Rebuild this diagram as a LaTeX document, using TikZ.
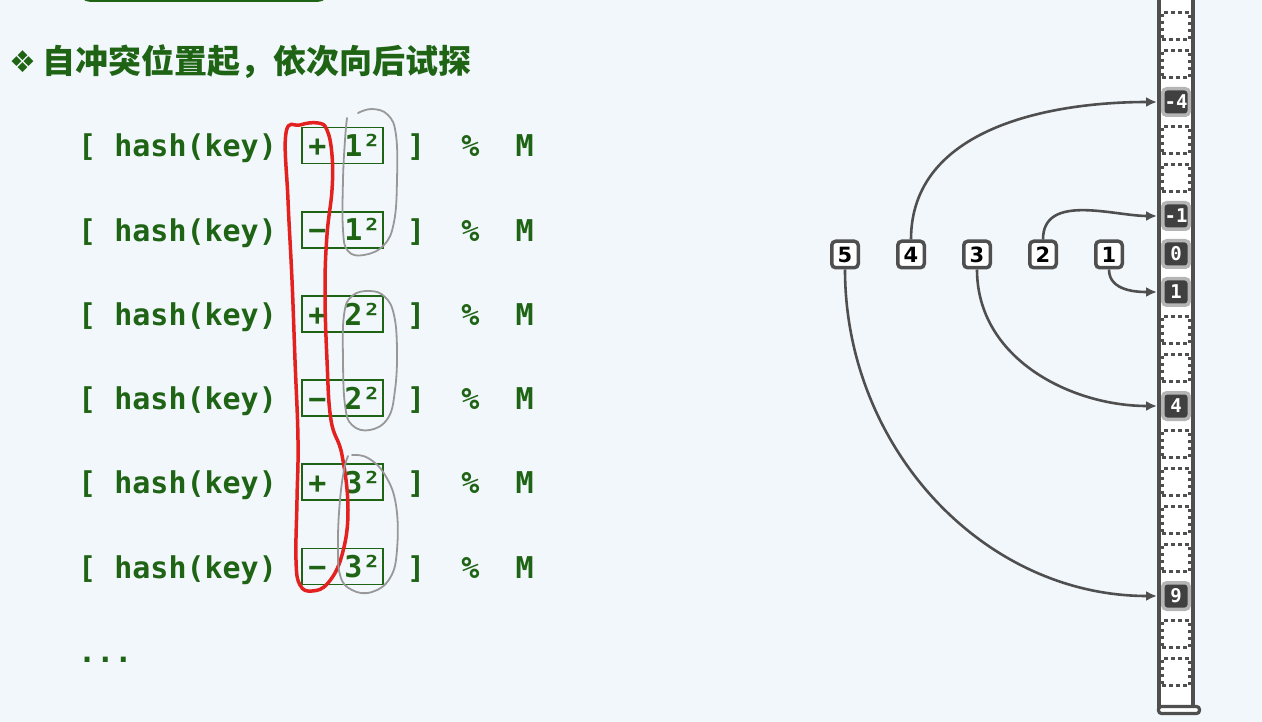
\documentclass[tikz,border=0pt]{standalone}
\usepackage{fontspec}
\setmonofont{DejaVu Sans Mono}
\newfontfamily\cjk{Noto Sans CJK SC}
\newfontfamily\dejavu{DejaVu Sans}
\usetikzlibrary{arrows.meta,positioning}
\definecolor{bg}{HTML}{F2F7FC}
\definecolor{codegreen}{HTML}{1E6414}
\definecolor{pen}{HTML}{E3211F}
\definecolor{pencil}{HTML}{989898}
\definecolor{tube}{HTML}{4F4F4F}
\definecolor{hitfill}{HTML}{404040}
\definecolor{hitrim}{HTML}{B5B5B5}
\tikzset{
code/.style={anchor=base west,inner sep=0pt,text=codegreen,
  font=\ttfamily\bfseries\fontsize{30}{36}\selectfont},
sqbox/.style={draw=codegreen,line width=1.8pt,minimum width=81pt,
  minimum height=36pt,inner sep=0pt,text=codegreen,
  font=\ttfamily\bfseries\fontsize{30}{36}\selectfont},
slot/.style={draw=tube,dash pattern=on 3.5pt off 3.5pt,line width=3.2pt,
  minimum size=27.5pt,inner sep=0pt},
hit/.style={fill=hitfill,draw=hitrim,line width=3.5pt,rounded corners=4pt,
  minimum size=26.5pt,inner sep=0pt,text=white,
  font=\ttfamily\bfseries\fontsize{19}{19}\selectfont},
key/.style={fill=white,draw=tube,line width=3.5pt,rounded corners=4pt,
  minimum size=26.5pt,inner sep=0pt,
  font=\dejavu\bfseries\fontsize{21}{21}\selectfont},
probe/.style={draw=tube,line width=2.6pt,-{Latex[length=11pt,width=10pt]},
  shorten >=4pt},
penline/.style={pen,line width=3.5pt,line cap=round,line join=round},
pencilline/.style={pencil,line width=1.8pt,line cap=round,line join=round}
}

\begin{document}
\begin{tikzpicture}[x=1pt,y=-1pt]
\useasboundingbox (0,0) rectangle (1262,722);
\clip (0,0) rectangle (1262,722);
\fill[bg] (0,0) rectangle (1262,722);

% tab above the title
\draw[codegreen,line width=3pt,rounded corners=12pt] (79,-40) rectangle (329,0.5);

% title
\node[anchor=base west,inner sep=0pt,text=codegreen,
  font=\dejavu\fontsize{30}{30}\selectfont] (bullet) at (9,73) {❖};
\node[anchor=base west,inner sep=0pt,text=codegreen,
  font=\cjk\bfseries\fontsize{33}{33}\selectfont] (title) at (42,74)
  {自冲突位置起，依次向后试探};

% probe rows
\foreach \i/\s/\n in {0/+/1,1/−/1,2/+/2,3/−/2,4/+/3,5/−/3}{
  \node[code] (hk\i) at (78,157+84.2*\i) {[ hash(key)};
  \node[sqbox] (pm\i) at (342.5,145.5+84.2*\i) {\s\ {\n}²\kern-4pt};
  \node[code] (mod\i) at (407,157+84.2*\i) {]\ \ \%\ \ M};
}
\node[code] (more) at (78,662) {...};

% hand marks
\draw[penline] plot[smooth cycle,tension=0.7] coordinates{
  (286,133) (300,125) (318,123) (327,130) (332,155) (332,190) (327,235)
  (325,290) (327,360) (331,420) (342,455) (348,510) (342,555) (328,583)
  (312,591) (300,585) (296,560) (297,500) (298,440) (295,360) (292,280)
  (288,200)};
\draw[pencilline] plot[smooth,tension=0.7] coordinates{
  (358,113) (372,109) (388,115) (396,135) (397,180) (394,222) (384,245)
  (364,255) (348,251) (343,230) (343,180) (345,140) (347,118)};
\draw[pencilline] plot[smooth cycle,tension=0.7] coordinates{
  (370,291) (385,297) (394,315) (397,350) (395,390) (388,418) (370,430)
  (352,425) (345,405) (343,360) (344,315) (352,296)};
\draw[pencilline] plot[smooth,tension=0.7] coordinates{
  (352,455) (368,458) (385,475) (396,505) (397,550) (390,578) (372,592)
  (352,590) (340,575) (338,540) (340,500) (344,470) (348,456)};

% table
\draw[tube,fill=white,line width=4pt] (1159,-10) rectangle (1193,707);
\draw[tube,fill=white,line width=3.2pt,rounded corners=3pt]
  (1158.5,706.5) rectangle (1199.5,713.5);
\foreach \k in {-6,-5,-3,-2,2,3,5,6,7,8,10,11}
  \node[slot] (s\k) at (1176,254+38*\k) {};
\foreach \k in {-4,-1,0,1,4,9}
  \node[hit] (s\k) at (1176,254+38*\k) {\k};

% keys
\foreach \k in {1,...,5}
  \node[key] (k\k) at (1175-66*\k,254.5) {\k};

\draw[probe] (k1.south) to[out=-90,in=180] (s1.west);
\draw[probe] (k2.north) to[out=90,in=180] (s-1.west);
\draw[probe] (k3.south) to[out=-90,in=180] (s4.west);
\draw[probe] (k4.north) to[out=90,in=180] (s-4.west);
\draw[probe] (k5.south) to[out=-90,in=180] (s9.west);
\end{tikzpicture}
\end{document}
